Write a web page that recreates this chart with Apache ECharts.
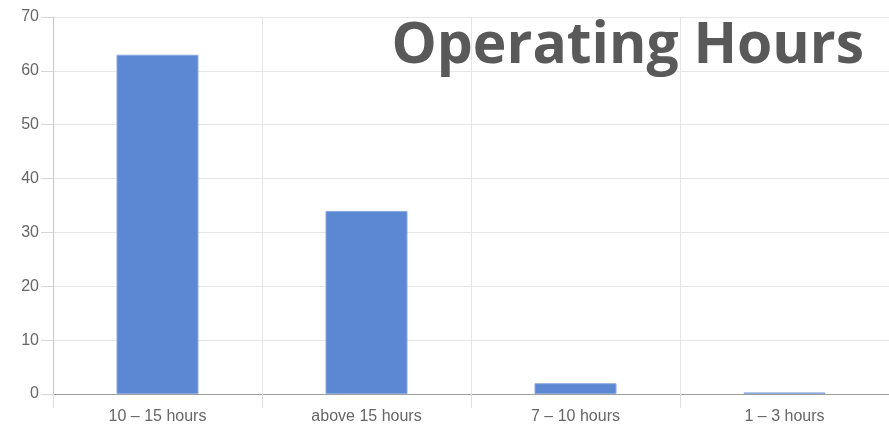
<!DOCTYPE html>
<html>
<head>
<meta charset="utf-8">
<script src="https://cdn.jsdelivr.net/npm/echarts@6/dist/echarts.min.js"></script>
<style>
  html, body { margin: 0; padding: 0; background: #fff; }
  #main { width: 889px; height: 429px; }
</style>
</head>
<body>
<div id="main"></div>
<script>
var categories = ['10 – 15 hours', 'above 15 hours', '7 – 10 hours', '1 – 3 hours'];
var hours = [63, 34, 2, 0.3];
var yTicks = { min: 0, max: 70, interval: 10 };

var myChart = echarts.init(document.getElementById('main'));

var option = {
    animation: false,
    title: {
        text: 'Operating Hours',
        right: 20,
        top: 13,
        textStyle: {
            fontFamily: 'Open Sans',
            fontWeight: 'bold',
            fontSize: 57,
            color: '#595959'
        }
    },
    grid: { left: 53, right: 0, top: 17, bottom: 35 },
    xAxis: {
        type: 'category',
        data: categories,
        axisLine: { lineStyle: { color: '#9e9e9e' } },
        axisTick: { show: true, length: 14, lineStyle: { color: '#e0e0e0' } },
        splitLine: { show: true, lineStyle: { color: '#e6e6e6' } },
        axisLabel: { color: '#666', fontSize: 16, fontFamily: 'Liberation Sans', margin: 15 }
    },
    yAxis: {
        type: 'value',
        min: yTicks.min,
        max: yTicks.max,
        interval: yTicks.interval,
        axisLine: { show: true, lineStyle: { color: '#c8c8c8' } },
        axisTick: { show: true, length: 12, lineStyle: { color: '#d6d6d6' } },
        splitLine: { lineStyle: { color: '#e6e6e6' } },
        axisLabel: { color: '#666', fontSize: 16, fontFamily: 'Liberation Sans', margin: 14 }
    },
    series: [{
        type: 'bar',
        data: hours,
        barWidth: 82,
        itemStyle: { color: '#5b87d3', borderColor: '#8aaae0', borderWidth: 1 }
    }]
};

myChart.setOption(option);
</script>
</body>
</html>
